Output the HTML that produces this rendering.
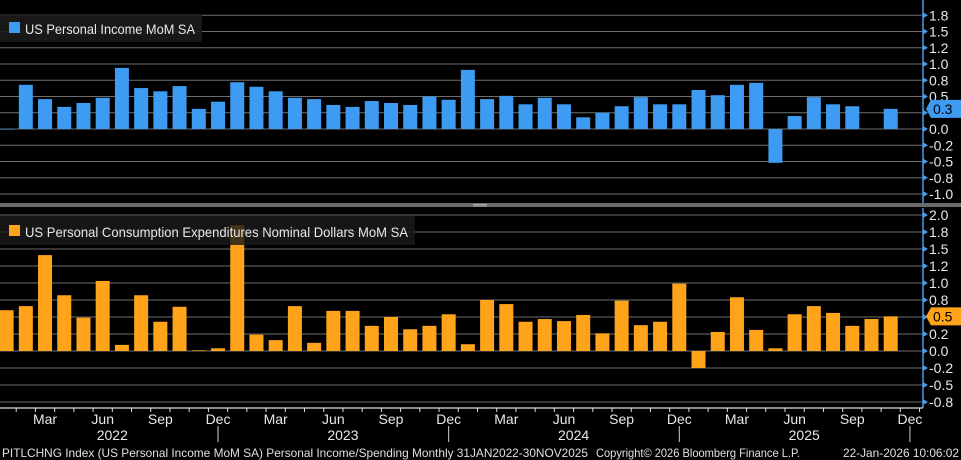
<!DOCTYPE html>
<html><head><meta charset="utf-8">
<style>
html,body{margin:0;padding:0;background:#000;}
svg{display:block;font-family:"Liberation Sans",Arial,sans-serif;}
</style></head>
<body>
<svg id="chart" width="961" height="460" viewBox="0 0 961 460" xmlns="http://www.w3.org/2000/svg">
<rect width="961" height="460" fill="#000"/>
</svg>
<script>
const months = ["Jan22","Feb22","Mar22","Apr22","May22","Jun22","Jul22","Aug22","Sep22","Oct22","Nov22","Dec22",
"Jan23","Feb23","Mar23","Apr23","May23","Jun23","Jul23","Aug23","Sep23","Oct23","Nov23","Dec23",
"Jan24","Feb24","Mar24","Apr24","May24","Jun24","Jul24","Aug24","Sep24","Oct24","Nov24","Dec24",
"Jan25","Feb25","Mar25","Apr25","May25","Jun25","Jul25","Aug25","Sep25","Oct25","Nov25"];
const incomeValues = [0.0,0.68,0.46,0.34,0.40,0.48,0.94,0.63,0.58,0.66,0.31,0.42,
0.72,0.65,0.58,0.48,0.46,0.37,0.34,0.43,0.40,0.37,0.50,0.45,
0.91,0.46,0.51,0.38,0.48,0.38,0.18,0.25,0.35,0.49,0.38,0.38,
0.60,0.52,0.68,0.71,-0.52,0.20,0.49,0.38,0.35,null,0.31];
const pceValues = [0.60,0.66,1.41,0.82,0.49,1.03,0.09,0.82,0.43,0.65,0.01,0.04,
1.85,0.24,0.16,0.66,0.12,0.59,0.59,0.37,0.50,0.32,0.37,0.54,
0.10,0.75,0.69,0.43,0.47,0.44,0.53,0.26,0.74,0.38,0.43,0.99,
-0.25,0.28,0.79,0.31,0.04,0.54,0.66,0.56,0.37,0.47,0.51];
const incomeTicks = ["1.8","1.5","1.2","1.0","0.8","0.5","0.3","0.0","-0.2","-0.5","-0.8","-1.0"];
const incomeTickVals = [1.75,1.5,1.25,1.0,0.75,0.5,0.25,0,-0.25,-0.5,-0.75,-1.0];
const pceTicks = ["2.0","1.8","1.5","1.2","1.0","0.8","0.5","0.2","0.0","-0.2","-0.5","-0.8"];
const pceTickVals = [2.0,1.75,1.5,1.25,1.0,0.75,0.5,0.25,0,-0.25,-0.5,-0.75];
const monthLabels = ["Mar","Jun","Sep","Dec","Mar","Jun","Sep","Dec","Mar","Jun","Sep","Dec","Mar","Jun","Sep","Dec"];
const monthLabelIdx = [2,5,8,11,14,17,20,23,26,29,32,35,38,41,44,47];
const years = ["2022","2023","2024","2025"];

const svg = document.getElementById('chart');
const NS = "http://www.w3.org/2000/svg";
function mk(tag, attrs, parent){const e=document.createElementNS(NS,tag);for(const k in attrs)e.setAttribute(k,attrs[k]);(parent||svg).appendChild(e);return e;}

const xStep = 19.22, x0 = 6.6, axisX = 923, barW = 14;
const xOf = i => x0 + i*xStep;
const yTop = v => 129 - v*65;
const yBot = v => 351 - v*68;

function panel(ticks, vals, yf, name){
  const g = mk('g',{});
  
  
  vals.forEach((v,k)=>{
    const y = yf(v);
    mk('line',{x1:0,x2:axisX,y1:y,y2:y,stroke:'#6e6e6e','stroke-width':1},g);
    mk('path',{d:`M${axisX} ${y-3}L${axisX+5} ${y}L${axisX} ${y+3}Z`,fill:'#4a9be8'},g);
    const t = mk('text',{x:axisX+6,y:y+5,fill:'#e8e8e8','font-size':14},g);
    t.textContent = ticks[k];
  });
}
panel(incomeTicks, incomeTickVals, yTop, 'income');
panel(pceTicks, pceTickVals, yBot, 'pce');

mk('line',{x1:axisX,x2:axisX,y1:0,y2:203,stroke:'#4a9be8','stroke-width':1.5});
mk('line',{x1:axisX,x2:axisX,y1:208,y2:408,stroke:'#4a9be8','stroke-width':1.5});

incomeValues.forEach((v,i)=>{
  if(v===null) return;
  const y = Math.min(yTop(v), yTop(0)), h = Math.max(Math.abs(yTop(v)-yTop(0)),0.6);
  const r = mk('rect',{x:xOf(i)-barW/2,y:y,width:barW,height:h,fill:'#3d9bf2'});
  
  
});
pceValues.forEach((v,i)=>{
  const y = Math.min(yBot(v), yBot(0)), h = Math.max(Math.abs(yBot(v)-yBot(0)),0.6);
  const r = mk('rect',{x:xOf(i)-barW/2,y:y,width:barW,height:h,fill:'#ffa31a'});
  
  
});

const lg1 = mk('g',{});


mk('rect',{x:0,y:15,width:202,height:27,fill:'#1b1b1b',opacity:0.9},lg1);
mk('rect',{x:9,y:22,width:11,height:11,fill:'#3d9bf2'},lg1);
const lt1 = mk('text',{x:25,y:34,fill:'#e8e8e8','font-size':14,textLength:170,lengthAdjust:'spacingAndGlyphs'},lg1);
lt1.textContent = 'US Personal Income MoM SA';
const lg2 = mk('g',{});


mk('rect',{x:0,y:216,width:415,height:29,fill:'#1b1b1b',opacity:0.82},lg2);
mk('rect',{x:9,y:225,width:11,height:11,fill:'#ffa31a'},lg2);
const lt2 = mk('text',{x:25,y:237,fill:'#e8e8e8','font-size':14,textLength:383,lengthAdjust:'spacingAndGlyphs'},lg2);
lt2.textContent = 'US Personal Consumption Expenditures Nominal Dollars MoM SA';

function tag(y, label, color, name){
  const g = mk('g',{});
  
  
  mk('path',{d:`M926 ${y}L931 ${y-9}H961V${y+9}H931Z`,fill:color},g);
  const t = mk('text',{x:933,y:y+5,fill:'#000','font-size':14},g);
  t.textContent = label;
}
tag(yTop(incomeValues[46]), '0.3', '#3d9bf2', 'income-last-value-tag');
tag(yBot(pceValues[46]), '0.5', '#ffa31a', 'pce-last-value-tag');

mk('rect',{x:0,y:203,width:961,height:4,fill:'#6a6a6a'});
mk('line',{x1:473,x2:487,y1:204.5,y2:204.5,stroke:'#bbb','stroke-width':0.8});
mk('line',{x1:473,x2:487,y1:206,y2:206,stroke:'#bbb','stroke-width':0.8});

mk('line',{x1:0,x2:axisX,y1:408,y2:408,stroke:'#e0e0e0','stroke-width':1.2});
for(let i=0;i<=48;i++){
  const x = xOf(i) - xStep/2;
  if(x<0||x>axisX) continue;
  mk('line',{x1:x,x2:x,y1:408,y2:412,stroke:'#e0e0e0','stroke-width':1});
}
monthLabels.forEach((m,k)=>{
  const t = mk('text',{x:xOf(monthLabelIdx[k]-0.5)+xStep/2,y:424,fill:'#e8e8e8','font-size':14,'text-anchor':'middle'});
  
  
  t.textContent = m;
});
years.forEach((yr,k)=>{
  const t = mk('text',{x:xOf(12*k+5.5),y:440,fill:'#e8e8e8','font-size':14,'text-anchor':'middle'});
  
  
  t.textContent = yr;
  const sx = xOf(12*k+11);
  mk('line',{x1:sx,x2:sx,y1:426,y2:442,stroke:'#cfcfcf','stroke-width':1});
});

const f1 = mk('text',{x:2,y:457,fill:'#e0e0e0','font-size':12,textLength:586,lengthAdjust:'spacingAndGlyphs'});


f1.textContent = 'PITLCHNG Index (US Personal Income MoM SA) Personal Income/Spending Monthly 31JAN2022-30NOV2025';
const f2 = mk('text',{x:596,y:457,fill:'#e0e0e0','font-size':12,textLength:204,lengthAdjust:'spacingAndGlyphs'});


f2.textContent = 'Copyright\u00a9 2026 Bloomberg Finance L.P.';
const f3 = mk('text',{x:843,y:457,fill:'#e0e0e0','font-size':12,textLength:116,lengthAdjust:'spacingAndGlyphs'});


f3.textContent = '22-Jan-2026 10:06:02';
</script>
</body></html>
